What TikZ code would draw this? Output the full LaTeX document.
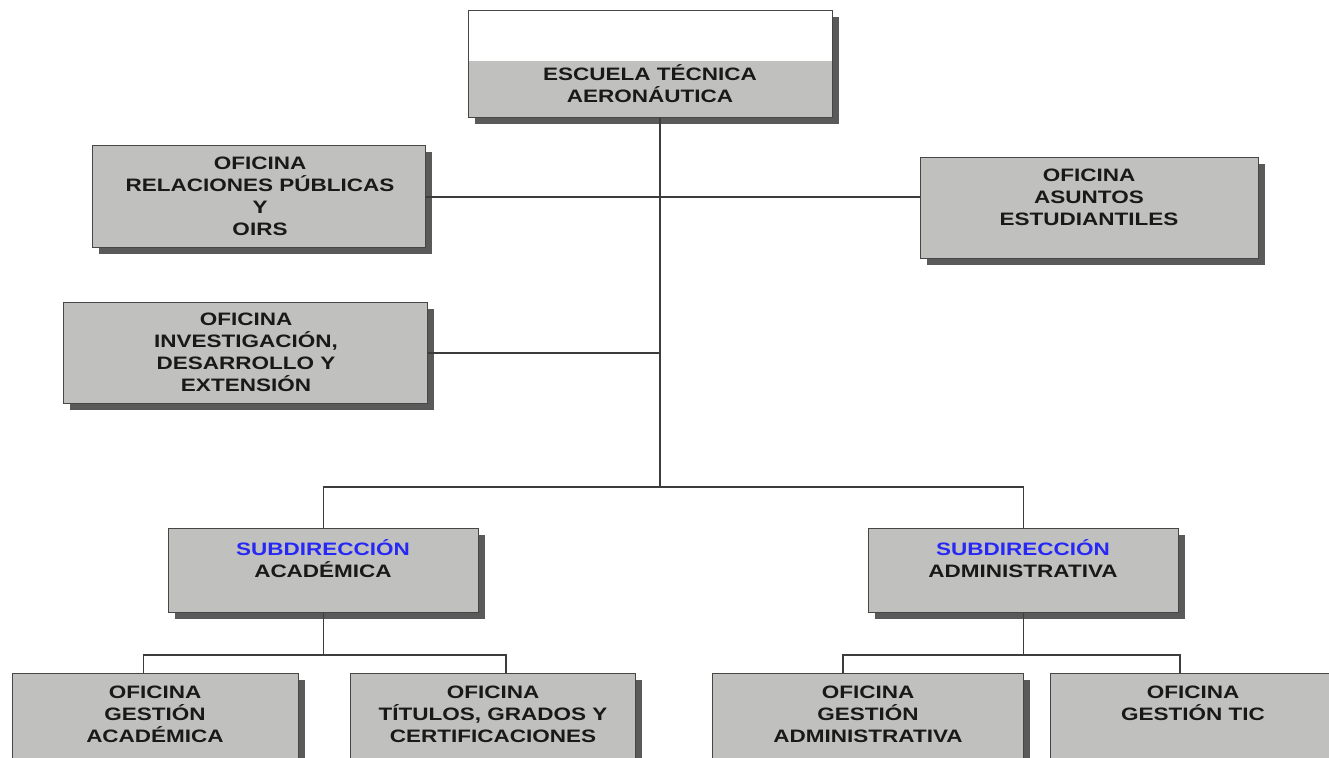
\documentclass[tikz,border=0pt]{standalone}
\usepackage{fontspec}
\newfontfamily\lblfont{Liberation Sans}[FakeStretch=1.25]
\usetikzlibrary{shadows,calc}
\definecolor{boxfill}{RGB}{192,193,190}
\definecolor{boxline}{RGB}{70,70,70}
\definecolor{shadowc}{RGB}{90,90,90}
\definecolor{connc}{RGB}{60,60,60}
\definecolor{subblue}{RGB}{40,40,245}
\begin{document}
\begin{tikzpicture}[x=1pt,y=-1pt,
  box/.style={draw=boxline, line width=1.2pt, fill=boxfill, anchor=north west, inner sep=0pt,
    copy shadow={shadow xshift=6pt, shadow yshift=-6pt, fill=shadowc, draw=none}},
  lbl/.style={font=\lblfont\bfseries\fontsize{18}{22}\selectfont, align=center, text=black!90, inner sep=0pt},
  conn/.style={draw=connc, line width=1.3pt}]
\useasboundingbox (0,0) rectangle (1329,757);
\clip (0,0) rectangle (1329,757);
\fill[white] (0,0) rectangle (1329,757);

\coordinate (jS) at (660,487);

% boxes
\node[box, fill=white, minimum width=364pt, minimum height=107pt,
  path picture={\fill[boxfill] (path picture bounding box.south west) rectangle ([yshift=57pt]path picture bounding box.south east);}]
  (top) at (468,10) {};
\node[box, minimum width=333pt, minimum height=102pt] (rp) at (92,145) {};
\node[box, minimum width=338pt, minimum height=101pt] (ae) at (920,157) {};
\node[box, minimum width=364pt, minimum height=101pt] (ide) at (63,302) {};
\node[box, minimum width=310pt, minimum height=84pt] (subA) at (168,528) {};
\node[box, minimum width=310pt, minimum height=84pt] (subB) at (868,528) {};
\node[box, minimum width=286pt, minimum height=130pt] (gA) at (12,673) {};
\node[box, minimum width=285pt, minimum height=130pt] (gT) at (350,673) {};
\node[box, minimum width=311pt, minimum height=130pt] (gAd) at (712,673) {};
\node[box, minimum width=300pt, minimum height=130pt] (gTic) at (1050,673) {};

\coordinate (jA) at (subA.south |- 0,655);
\coordinate (jB) at (subB.south |- 0,655);

\draw[conn] (top.south -| jS) -- (jS);
\draw[conn] (rp.east |- 0,197) -- (ae.west |- 0,197);
\draw[conn] (ide.east) -- (ide.east -| jS);
\draw[conn] (subA.north) |- (jS) -| (subB.north);
\draw[conn] (subA.south) -- (jA);
\draw[conn] (subB.south) -- (jB);
\draw[conn] ([xshift=-12pt]gA.north) |- (jA) -| ([xshift=13pt]gT.north);
\draw[conn] ([xshift=-25pt]gAd.north) |- (jB) -| (gTic.north -| 1180,0);

% labels
\node[lbl] (ttop) at (650,84) {ESCUELA TÉCNICA\\AERONÁUTICA};
\node[lbl] (trp) at (260,196) {OFICINA\\RELACIONES PÚBLICAS\\Y\\OIRS};
\node[lbl] (tae) at (1089,197) {OFICINA\\ASUNTOS\\ESTUDIANTILES};
\node[lbl] (tide) at (246,352) {OFICINA\\INVESTIGACIÓN,\\DESARROLLO Y\\EXTENSIÓN};
\node[lbl] (tsubA) at (323,559) {\textcolor{subblue}{SUBDIRECCIÓN}\\ACADÉMICA};
\node[lbl] (tsubB) at (1023,559) {\textcolor{subblue}{SUBDIRECCIÓN}\\ADMINISTRATIVA};
\node[lbl] (tgA) at (155,714) {OFICINA\\GESTIÓN\\ACADÉMICA};
\node[lbl] (tgT) at (493,714) {OFICINA\\TÍTULOS, GRADOS Y\\CERTIFICACIONES};
\node[lbl] (tgAd) at (868,714) {OFICINA\\GESTIÓN\\ADMINISTRATIVA};
\node[lbl] (tgTic) at (1193,703) {OFICINA\\GESTIÓN TIC};
\end{tikzpicture}
\end{document}
